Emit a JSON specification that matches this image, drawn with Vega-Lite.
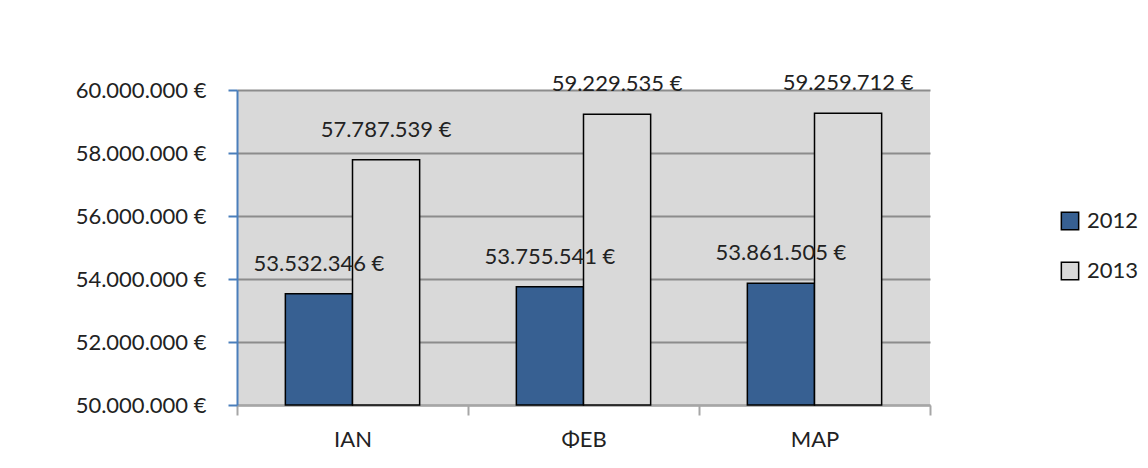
{
  "$schema": "https://vega.github.io/schema/vega-lite/v6.json",
  "width": 693,
  "height": 315,
  "autosize": "none",
  "padding": {"left": 237, "top": 90, "right": 218, "bottom": 63},
  "background": "white",
  "config": {
    "locale": {"number": {"decimal": ",", "thousands": ".", "grouping": [3], "currency": ["", " €"]}},
    "font": "Lato",
    "view": {"fill": "#d9d9d9", "stroke": null}
  },
  "data": {
    "values": [
      {"month": "IAN", "year": "2012", "value": 53532346},
      {"month": "IAN", "year": "2013", "value": 57787539},
      {"month": "ΦEB", "year": "2012", "value": 53755541},
      {"month": "ΦEB", "year": "2013", "value": 59229535},
      {"month": "MAP", "year": "2012", "value": 53861505},
      {"month": "MAP", "year": "2013", "value": 59259712}
    ]
  },
  "encoding": {
    "x": {
      "field": "month", "type": "nominal", "sort": ["IAN", "ΦEB", "MAP"],
      "scale": {"paddingInner": 0, "paddingOuter": 0},
      "axis": {
        "title": null, "labelAngle": 0, "labelFontSize": 22, "labelColor": "#222",
        "labelPadding": 14, "tickBand": "extent", "tickSize": 10, "tickColor": "#a6a6a6",
        "tickWidth": 2, "domainColor": "#a6a6a6", "domainWidth": 2, "grid": false
      }
    },
    "xOffset": {"field": "year", "type": "nominal", "scale": {"paddingInner": 0, "paddingOuter": 0.72}},
    "y": {
      "field": "value", "type": "quantitative",
      "scale": {"domain": [50000000, 60000000], "zero": false, "nice": false},
      "axis": {
        "title": null, "values": [50000000, 52000000, 54000000, 56000000, 58000000, 60000000],
        "format": "$,.0f", "labelFontSize": 22, "labelColor": "#222", "labelPadding": 22,
        "domainColor": "#4a7ebb", "domainWidth": 2, "tickColor": "#4a7ebb", "tickWidth": 2, "tickSize": 9,
        "grid": true, "gridColor": "#8c8c8c", "gridWidth": 2
      }
    }
  },
  "layer": [
    {
      "mark": {"type": "bar", "stroke": "black", "strokeWidth": 1.5},
      "encoding": {
        "y2": {"datum": 50000000},
        "color": {
          "field": "year", "type": "nominal",
          "scale": {"domain": ["2012", "2013"], "range": ["#376092", "#d9d9d9"]},
          "legend": {
            "title": null, "orient": "none", "legendX": 822, "legendY": 120,
            "symbolType": "square", "symbolSize": 300, "symbolStrokeColor": "black",
            "symbolStrokeWidth": 1.5, "labelFontSize": 22, "labelColor": "#222",
            "rowPadding": 26, "labelOffset": 6
          }
        }
      }
    },
    {
      "mark": {"type": "text", "baseline": "bottom", "dy": -18, "fontSize": 22, "color": "#222"},
      "encoding": {"text": {"field": "value", "type": "quantitative", "format": "$,.0f"}}
    }
  ]
}
